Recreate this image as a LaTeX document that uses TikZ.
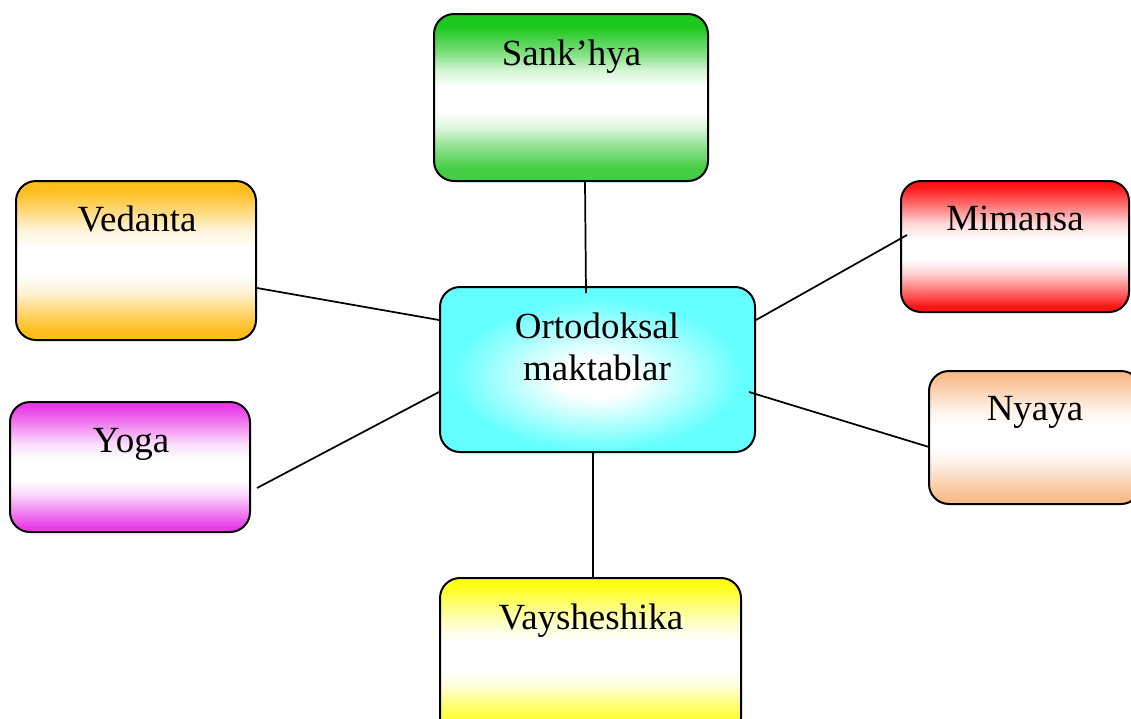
\documentclass[tikz,border=0pt]{standalone}
\usepackage{fontspec}
\setmainfont{Liberation Serif}
\usetikzlibrary{calc}
\definecolor{gTop}{RGB}{30,200,30}
\definecolor{gBot}{RGB}{70,205,70}
\definecolor{oC}{RGB}{255,190,30}
\definecolor{rC}{RGB}{255,20,20}
\definecolor{pC}{RGB}{248,188,140}
\definecolor{mC}{RGB}{232,60,232}
\definecolor{yC}{RGB}{255,255,20}
\definecolor{cC}{RGB}{100,255,255}
\colorlet{gTopM}{gTop!55!white}\colorlet{gTopL}{gTop!18!white}
\colorlet{gBotM}{gBot!55!white}\colorlet{gBotL}{gBot!18!white}
\colorlet{oM}{oC!55!white}\colorlet{oL}{oC!18!white}
\colorlet{rM}{rC!55!white}\colorlet{rL}{rC!18!white}
\colorlet{pM}{pC!55!white}\colorlet{pL}{pC!18!white}
\colorlet{mM}{mC!55!white}\colorlet{mL}{mC!18!white}
\colorlet{yM}{yC!55!white}\colorlet{yL}{yC!18!white}
\pgfdeclareverticalshading{shgreen}{100bp}{color(0bp)=(gBot); color(29bp)=(gBot); color(36bp)=(gBotM); color(41bp)=(gBotL); color(46bp)=(white); color(53bp)=(white); color(58bp)=(gTopL); color(63bp)=(gTopM); color(71bp)=(gTop); color(100bp)=(gTop)}
\pgfdeclareverticalshading{shorange}{100bp}{color(0bp)=(oC); color(28bp)=(oC); color(35bp)=(oM); color(40bp)=(oL); color(46bp)=(white); color(54bp)=(white); color(60bp)=(oL); color(65bp)=(oM); color(72bp)=(oC); color(100bp)=(oC)}
\pgfdeclareverticalshading{shred}{100bp}{color(0bp)=(rC); color(27bp)=(rC); color(34bp)=(rM); color(40bp)=(rL); color(45bp)=(white); color(53bp)=(white); color(59bp)=(rL); color(65bp)=(rM); color(73bp)=(rC); color(100bp)=(rC)}
\pgfdeclareverticalshading{shpeach}{100bp}{color(0bp)=(pC); color(27bp)=(pC); color(35bp)=(pM); color(41bp)=(pL); color(46bp)=(white); color(55bp)=(white); color(60bp)=(pL); color(66bp)=(pM); color(73bp)=(pC); color(100bp)=(pC)}
\pgfdeclareverticalshading{shmag}{100bp}{color(0bp)=(mC); color(27bp)=(mC); color(34bp)=(mM); color(40bp)=(mL); color(45bp)=(white); color(53bp)=(white); color(59bp)=(mL); color(65bp)=(mM); color(73bp)=(mC); color(100bp)=(mC)}
\pgfdeclareverticalshading{shyel}{100bp}{color(0bp)=(yC); color(29bp)=(yC); color(36bp)=(yM); color(41bp)=(yL); color(46bp)=(white); color(55bp)=(white); color(60bp)=(yL); color(66bp)=(yM); color(73bp)=(yC); color(100bp)=(yC)}
\pgfdeclareradialshading{shcyan}{\pgfpoint{0bp}{-3bp}}{color(0bp)=(white); color(6bp)=(white); color(23bp)=(cC); color(50bp)=(cC)}
\tikzset{
  box/.style={draw=black, line width=1.5pt, rounded corners=15pt, inner sep=0pt},
  lbl/.style={font=\fontsize{27.7}{31.5}\selectfont, inner sep=0pt},
  conn/.style={draw=black, line width=1.3pt}
}
\begin{document}
\begin{tikzpicture}[x=0.75pt,y=-0.75pt]
\useasboundingbox (0,0) rectangle (1131,718);
\clip (0,0) rectangle (1131,718);
% boxes
\node[box, shading=shgreen, minimum width=205.5pt, minimum height=125.25pt] (sank) at (571,97.5) {};
\node[box, shading=shorange, minimum width=180pt, minimum height=119.25pt] (ved) at (136,260.5) {};
\node[box, shading=shred, minimum width=171pt, minimum height=98.25pt] (mim) at (1015,246.5) {};
\node[box, shading=shcyan, minimum width=236.25pt, minimum height=123.75pt] (cen) at (597.5,369.5) {};
\node[box, shading=shpeach, minimum width=159pt, minimum height=99.75pt] (nya) at (1035,437.5) {};
\node[box, shading=shmag, minimum width=180pt, minimum height=97.5pt] (yoga) at (130,467) {};
\node[box, shading=shyel, minimum width=225.75pt, minimum height=120pt] (vay) at (590.5,658) {};
% labels
\node[lbl, anchor=base] (tsank) at (571.5,65) {Sank’hya};
\node[lbl, anchor=base] (tved) at (137,231) {Vedanta};
\node[lbl, anchor=base] (tmim) at (1015,230) {Mimansa};
\node[lbl, anchor=base] (tnya) at (1035,420) {Nyaya};
\node[lbl, anchor=base] (tyoga) at (131,452) {Yoga};
\node[lbl, anchor=base] (tvay) at (591,629) {Vaysheshika};
\node[lbl, align=center, anchor=center] (tcen) at (597,347) {Ortodoksal\\maktablar};
% connectors
\draw[conn] ($(sank.south)+(14,0)$) -- ($(cen.north)+(-11.5,7)$);
\draw[conn] ($(ved.east)+(0,27.5)$) -- ($(cen.west)+(0,-49.5)$);
\draw[conn] ($(mim.west)+(7,-11.5)$) -- ($(cen.east)+(0,-49.5)$);
\draw[conn] ($(nya.west)+(1,9.5)$) -- ($(cen.east)+(-7,22.5)$);
\draw[conn] ($(yoga.east)+(6,21)$) -- ($(cen.west)+(0,22.5)$);
\draw[conn] ($(cen.south)+(-4.5,0)$) -- ($(vay.north)+(2.5,0)$);
\end{tikzpicture}
\end{document}
